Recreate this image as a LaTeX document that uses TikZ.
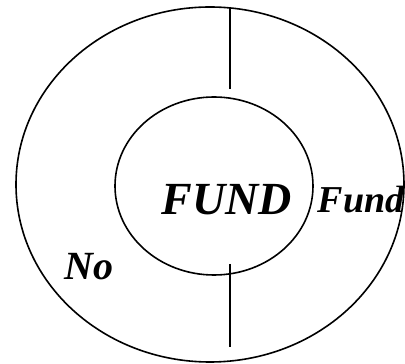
\documentclass[tikz,border=0pt]{standalone}
\usepackage{fontspec}
\setmainfont{Liberation Serif}
\begin{document}
\begin{tikzpicture}[x=1pt, y=1pt, line width=1.6pt]
\tikzset{lbl/.style={inner sep=0pt, font=\bfseries\itshape}}
\useasboundingbox (0,0) rectangle (405,364);
\draw (210,179.5) ellipse [x radius=194, y radius=177.5];
\draw (214,178) ellipse [x radius=99, y radius=89];
\coordinate (ta) at (230,357);
\coordinate (tb) at (230,275);
\coordinate (ba) at (230,100);
\coordinate (bb) at (230,17);
\draw (ta) -- (tb);
\draw (ba) -- (bb);
\node[lbl, anchor=base, font=\fontsize{46}{46}\selectfont\bfseries\itshape] (big) at (227,149) {FUND};
\node[lbl, anchor=base west, font=\fontsize{38}{38}\selectfont\bfseries\itshape] (fund) at (317,151) {Fund};
\node[lbl, anchor=base west, font=\fontsize{40}{40}\selectfont\bfseries\itshape] (no) at (64,84) {No};
\end{tikzpicture}
\end{document}
